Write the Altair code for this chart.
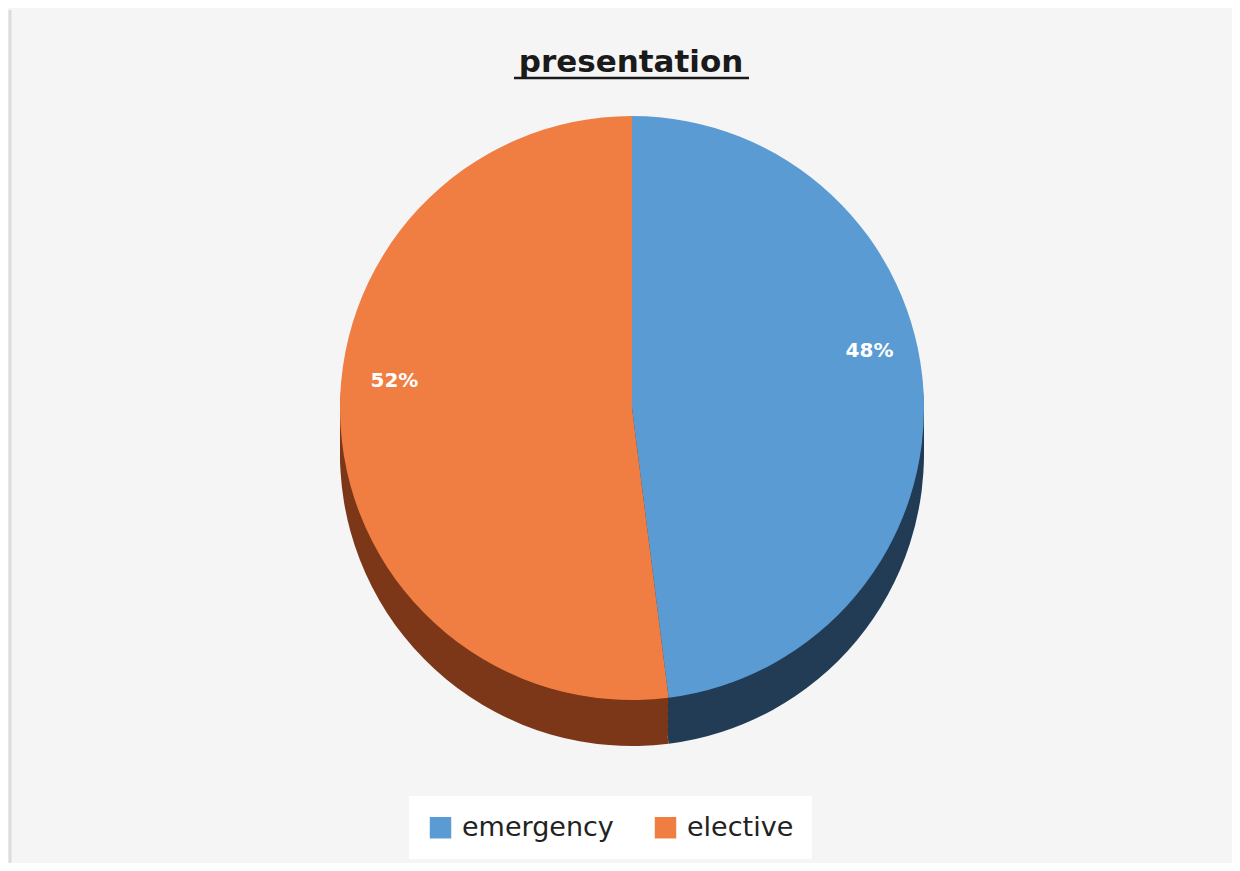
import altair as alt
import pandas as pd

# ---- data ----
categories = ["emergency", "elective"]
shares = [48, 52]
labels = ["48%", "52%"]
order_idx = [0, 1]
chart_title = "presentation"

top_colors = ["#5b9bd3", "#f07d42"]
side_colors = ["#213c54", "#7c3719"]

df = pd.DataFrame({"category": categories, "share": shares,
                   "label": labels, "order": order_idx})

FONT = "DejaVu Sans"
cx, cy = 623, 398
R = 292

base = alt.Chart(df)
theta = alt.Theta("share:Q", stack=True)
order = alt.Order("order:Q")

layers = []
for off in [46, 38, 30, 22, 14, 6]:
    layers.append(
        base.mark_arc(radius=R).encode(
            theta=theta, order=order,
            color=alt.Color("category:N",
                            scale=alt.Scale(domain=categories, range=side_colors),
                            legend=None),
            x=alt.value(cx), y=alt.value(cy + off),
        )
    )

top = base.mark_arc(radius=R).encode(
    theta=theta, order=order,
    color=alt.Color(
        "category:N",
        scale=alt.Scale(domain=categories, range=top_colors),
        legend=alt.Legend(
            title=None, orient="none", legendX=400, legendY=786,
            direction="horizontal", fillColor="white", padding=18,
            symbolType="square", symbolSize=460, symbolStrokeWidth=0,
            labelFontSize=27, labelFont=FONT, labelColor="#222222",
            columnPadding=38, labelOffset=8,
        ),
    ),
    x=alt.value(cx), y=alt.value(cy),
)

text = base.mark_text(radius=238, dy=-42, fontSize=20, fontWeight="bold",
                      color="white", font=FONT).encode(
    theta=theta, order=order, text="label:N",
    x=alt.value(cx), y=alt.value(cy),
)

title_df = pd.DataFrame({"t": [chart_title]})
title = alt.Chart(title_df).mark_text(
    fontSize=31, fontWeight="bold", font=FONT, color="#1a1a1a",
    baseline="alphabetic", align="center",
).encode(text="t:N", x=alt.value(622), y=alt.value(62))

underline = alt.Chart(title_df).mark_rule(strokeWidth=2.5, color="#1a1a1a").encode(
    x=alt.value(505), x2=alt.value(740), y=alt.value(68)
)

left_edge = alt.Chart(title_df).mark_rule(strokeWidth=3, color="#dcdcdc").encode(
    x=alt.value(1), y=alt.value(0), y2=alt.value(855)
)

chart = alt.layer(*layers, top, text, title, underline, left_edge).resolve_scale(
    color="independent"
).properties(
    width=1224, height=855,
    autosize=alt.AutoSizeParams(type="fit", contains="padding"),
    background="#f5f5f5", padding=0,
).configure_view(stroke=None)

chart.save("out.html", embed_options={"renderer": "svg", "actions": False})
